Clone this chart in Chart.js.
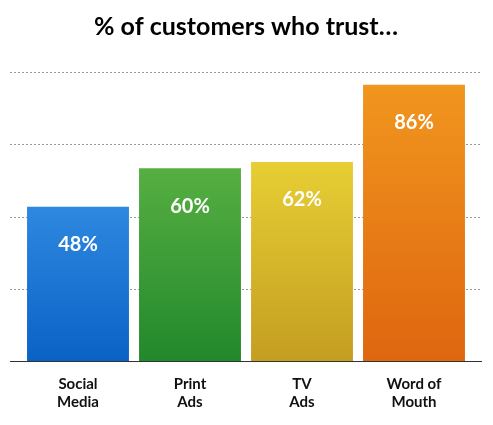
<!DOCTYPE html>
<html><head><meta charset="utf-8">
<script src="https://cdn.jsdelivr.net/npm/chart.js@4/dist/chart.umd.min.js"></script>
<style>html,body{margin:0;padding:0;background:#fff}#w{width:493px;height:425px}</style>
</head><body><div id="w"><canvas id="c"></canvas></div>
<script>
const categories=[["Social","Media"],["Print","Ads"],["TV","Ads"],["Word of","Mouth"]];
const values=[48,60,62,86];
const gradStops=[["#4eaaf6","#0a62c6"],["#70c24c","#22882c"],["#f7e43c","#c49e22"],["#f2981f","#de660f"]];
const plug={id:'p',
 beforeDatasetsDraw(ch){const c=ch.ctx,y=ch.scales.y;c.save();c.strokeStyle='#999';c.lineWidth=1;c.setLineDash([2,2]);
  [22.5,45,67.5,90].forEach(v=>{const py=Math.round(y.getPixelForValue(v))+0.5;c.beginPath();c.moveTo(10,py);c.lineTo(482,py);c.stroke();});
  c.setLineDash([]);c.strokeStyle='#333';const py=Math.round(y.getPixelForValue(0))+0.5;c.beginPath();c.moveTo(10,py);c.lineTo(482,py);c.stroke();c.restore();},
 afterDatasetsDraw(ch){const c=ch.ctx;c.save();c.fillStyle='#fff';c.font='bold 20px Lato';c.textAlign='center';c.textBaseline='middle';
  ch.getDatasetMeta(0).data.forEach((b,i)=>{c.fillText(values[i]+'%',b.x,b.y+38);});c.restore();}};
new Chart(document.getElementById('c'),{type:'bar',
 data:{labels:categories,datasets:[{data:values,
  backgroundColor(ctx){const ch=ctx.chart,a=ch.chartArea;if(!a)return '#888';const g=ch.ctx.createLinearGradient(0,a.top,0,a.bottom);const s=gradStops[ctx.dataIndex];g.addColorStop(0,s[0]);g.addColorStop(1,s[1]);return g;},
  barPercentage:0.91,categoryPercentage:1}]},
 options:{responsive:true,maintainAspectRatio:false,animation:false,
  layout:{padding:{left:22,right:23,top:0,bottom:8}},
  plugins:{legend:{display:false},tooltip:{enabled:false},
   title:{display:true,text:'% of customers who trust…',color:'#000',font:{family:'Lato',size:25,weight:'bold'},padding:{top:12,bottom:30}}},
  scales:{x:{grid:{display:false},border:{display:false},ticks:{color:'#111',font:{family:'Lato',size:15,weight:'bold'},padding:6}},
   y:{min:0,max:90,display:false}}},
 plugins:[plug]});
</script></body></html>
